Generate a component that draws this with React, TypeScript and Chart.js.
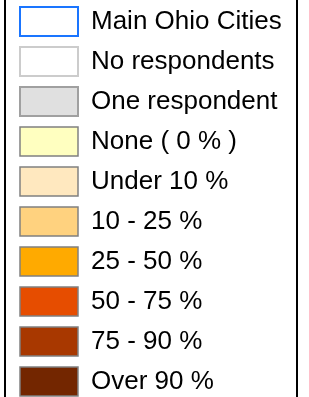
import React, { useEffect, useRef } from "react";
import { Chart, registerables } from "chart.js";

Chart.register(...registerables);

const categories = [
  "Main Ohio Cities",
  "No respondents",
  "One respondent",
  "None ( 0 % )",
  "Under 10 %",
  "10 - 25 %",
  "25 - 50 %",
  "50 - 75 %",
  "75 - 90 %",
  "Over 90 %",
];
const fillColors = [
  "#ffffff",
  "#ffffff",
  "#e0e0e0",
  "#ffffc0",
  "#ffe8bf",
  "#ffd27f",
  "#ffaa00",
  "#e64d00",
  "#a83800",
  "#732600",
];
const borderColors = [
  "#1a75ff",
  "#cccccc",
  "#a0a0a0",
  "#808080",
  "#808080",
  "#808080",
  "#808080",
  "#808080",
  "#808080",
  "#808080",
];
const borderWidths = [2, 2, 2, 1.5, 1.5, 1.5, 1.5, 1.5, 1.5, 1.5];

export default function App() {
  const ref = useRef<HTMLCanvasElement | null>(null);
  useEffect(() => {
    if (!ref.current) return;
    const chart = new Chart(ref.current, {
      type: "bar",
      data: {
        labels: [],
        datasets: categories.map((c, i) => ({
          label: c,
          data: [],
          backgroundColor: fillColors[i],
          borderColor: borderColors[i],
          borderWidth: borderWidths[i],
        })),
      },
      options: {
        animation: false,
        responsive: false,
        devicePixelRatio: 1,
        layout: { padding: 0 },
        scales: {
          x: { display: false },
          y: { display: false },
        },
        plugins: {
          tooltip: { enabled: false },
          legend: {
            position: "left",
            align: "start",
            maxWidth: 295,
            labels: {
              boxWidth: 58,
              boxHeight: 29,
              padding: 11,
              color: "#000000",
              textAlign: "left",
              font: { family: "'Liberation Sans', Arial, sans-serif", size: 26 },
            },
          },
        },
      },
    });
    return () => chart.destroy();
  }, []);
  return (
    <div
      style={{
        position: "fixed",
        left: 0,
        top: 0,
        width: 309,
        height: 397,
        overflow: "hidden",
        background: "#ffffff",
      }}
    >
      <div
        style={{
          position: "absolute",
          left: 4,
          top: -10,
          width: 290,
          height: 430,
          borderLeft: "2px solid #000",
          borderRight: "2px solid #000",
        }}
      />
      <canvas
        ref={ref}
        width={300}
        height={440}
        style={{ position: "absolute", left: 9, top: -4 }}
      />
    </div>
  );
}
